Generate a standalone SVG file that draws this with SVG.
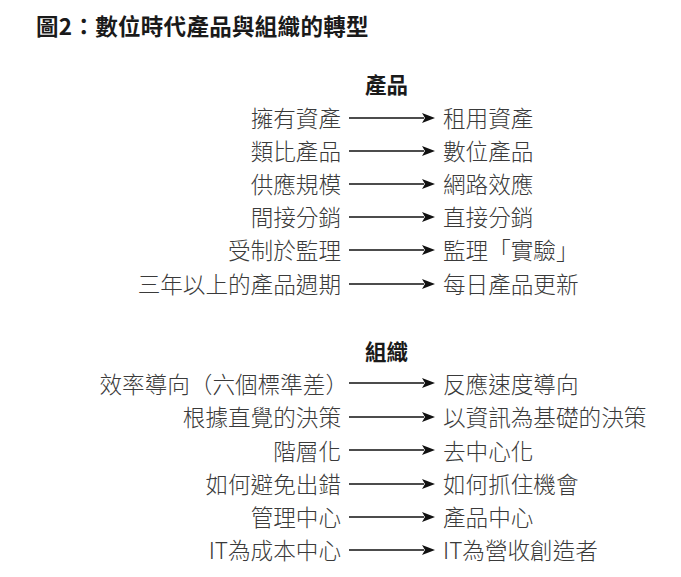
<svg xmlns="http://www.w3.org/2000/svg" width="681" height="577" viewBox="0 0 681 577">
<style>
text{font-family:"Noto Sans CJK TC","Noto Sans CJK SC",sans-serif;dominant-baseline:central}
.title{font-size:22.5px;font-weight:700;fill:#1a1a1a;letter-spacing:0.3px}
.head{font-size:21.5px;font-weight:700;fill:#1a1a1a}
.l{font-size:22.6px;font-weight:300;fill:#3a3a3a;text-anchor:end}
.r{font-size:22.6px;font-weight:300;fill:#3a3a3a}
.c line{stroke:#111;stroke-width:1.3;marker-end:url(#ah)}
</style>
<defs>
<marker id="ah" markerUnits="userSpaceOnUse" markerWidth="14" markerHeight="12" viewBox="0 0 14 12" refX="2" refY="6" orient="auto">
<path d="M0,1 L13,6 L0,11 L3,6 Z" fill="#111"/>
</marker>
</defs>
<rect width="681" height="577" fill="#fff"/>
<g id="title"><text class="title" x="36" y="25">圖2：數位時代產品與組織的轉型</text></g>
<g id="h-product"><text class="head" x="365" y="83">產品</text></g>
<g id="p1-from"><text class="l" x="341" y="117">擁有資產</text></g>
<g id="p1-to"><text class="r" x="443" y="117">租用資產</text></g>
<g id="p2-from"><text class="l" x="341" y="150">類比產品</text></g>
<g id="p2-to"><text class="r" x="443" y="150">數位產品</text></g>
<g id="p3-from"><text class="l" x="341" y="183">供應規模</text></g>
<g id="p3-to"><text class="r" x="443" y="183">網路效應</text></g>
<g id="p4-from"><text class="l" x="341" y="216">間接分銷</text></g>
<g id="p4-to"><text class="r" x="443" y="216">直接分銷</text></g>
<g id="p5-from"><text class="l" x="341" y="249">受制於監理</text></g>
<g id="p5-to"><text class="r" x="443" y="249">監理「實驗」</text></g>
<g id="p6-from"><text class="l" x="341" y="283">三年以上的產品週期</text></g>
<g id="p6-to"><text class="r" x="443" y="283">每日產品更新</text></g>
<g id="h-org"><text class="head" x="365" y="350">組織</text></g>
<g id="o1-from"><text class="l" x="348" y="383">效率導向（六個標準差）</text></g>
<g id="o1-to"><text class="r" x="443" y="383">反應速度導向</text></g>
<g id="o2-from"><text class="l" x="341" y="416">根據直覺的決策</text></g>
<g id="o2-to"><text class="r" x="443" y="416">以資訊為基礎的決策</text></g>
<g id="o3-from"><text class="l" x="341" y="450">階層化</text></g>
<g id="o3-to"><text class="r" x="443" y="450">去中心化</text></g>
<g id="o4-from"><text class="l" x="341" y="483">如何避免出錯</text></g>
<g id="o4-to"><text class="r" x="443" y="483">如何抓住機會</text></g>
<g id="o5-from"><text class="l" x="341" y="516">管理中心</text></g>
<g id="o5-to"><text class="r" x="443" y="516">產品中心</text></g>
<g id="o6-from"><text class="l" x="341" y="549">IT為成本中心</text></g>
<g id="o6-to"><text class="r" x="443" y="549">IT為營收創造者</text></g>
<g id="connectors" class="c">
<line x1="349" y1="118" x2="424" y2="118"/>
<line x1="349" y1="151" x2="424" y2="151"/>
<line x1="349" y1="184" x2="424" y2="184"/>
<line x1="349" y1="217" x2="424" y2="217"/>
<line x1="349" y1="250" x2="424" y2="250"/>
<line x1="349" y1="284" x2="424" y2="284"/>
<line x1="349" y1="383" x2="424" y2="383"/>
<line x1="349" y1="417" x2="424" y2="417"/>
<line x1="349" y1="450" x2="424" y2="450"/>
<line x1="349" y1="484" x2="424" y2="484"/>
<line x1="349" y1="517" x2="424" y2="517"/>
<line x1="349" y1="550" x2="424" y2="550"/>
</g>
</svg>
